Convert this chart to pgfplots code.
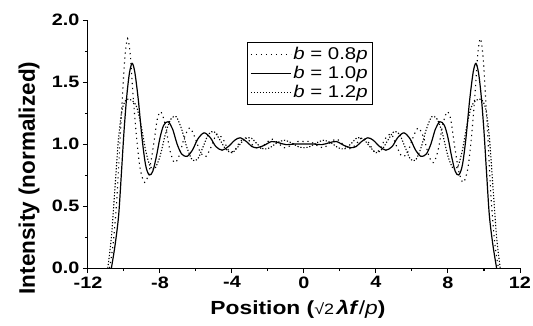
\documentclass[border=0pt]{standalone}
\usepackage{fontspec}
\setmainfont{Liberation Sans}[FakeStretch=1.2]
\newfontfamily\ylfont{Liberation Sans}
\usepackage{pgfplots}
\pgfplotsset{compat=1.18}
\begin{document}
\begin{tikzpicture}
\path[use as bounding box] (-88pt,-57pt) rectangle (445pt,268pt);
\begin{axis}[
  at={(0pt,0pt)}, anchor=south west,
  scale only axis, width=432pt, height=248pt,
  xmin=-12, xmax=12, ymin=0, ymax=2.0,
  axis lines*=left,
  axis line style={line width=1pt},
  tick style={line width=1pt, black},
  tick align=outside,
  major tick length=5pt, minor tick length=3pt,
  xtick={-12,-8,-4,0,4,8,12},
  ytick={0,0.5,1.0,1.5,2.0},
  minor x tick num=1, minor y tick num=1,
  /pgf/number format/assume math mode=true,
  ticklabel style={font=\fontsize{16.5}{19}\selectfont\bfseries},
  yticklabel style={/pgf/number format/.cd, fixed, fixed zerofill, precision=1},
  clip=true,
  legend style={at={(0.368,0.911)}, anchor=north west, draw=black, line width=0.8pt,
    font=\fontsize{17}{20}\selectfont, row sep=1pt, inner sep=3pt, cells={anchor=west}},
  legend image code/.code={\draw[#1, line width=1pt] (0pt,0pt) -- (40pt,0pt);},
]
% b = 0.8p
\addplot[black, line width=1.1pt, dash pattern=on 1.2pt off 3.8pt, smooth, tension=0.5] coordinates {
(-10.8,0) (-10.6,0.2) (-10.4,0.55) (-10.25,0.95) (-10.1,1.35) (-9.95,1.7) (-9.8,1.85) (-9.65,1.72) (-9.5,1.4) (-9.3,1.05) (-9.1,0.8) (-8.85,0.69) (-8.6,0.78) (-8.35,1.0) (-8.15,1.2) (-7.95,1.26) (-7.7,1.15) (-7.45,0.95) (-7.2,0.85) (-6.95,0.9) (-6.65,1.05) (-6.35,1.13) (-6.05,1.05) (-5.75,0.93) (-5.45,0.9) (-5.15,0.98) (-4.85,1.08) (-4.5,1.04) (-4.2,0.95) (-3.9,0.94) (-3.55,1.02) (-3.2,1.05) (-2.85,0.99) (-2.5,0.96) (-2.15,1.0) (-1.8,1.04) (-1.45,1.01) (-1.1,0.97) (-0.7,0.99) (-0.35,1.02) (0,1.02)
(0.35,1.02) (0.7,0.99) (1.1,0.97) (1.45,1.01) (1.8,1.04) (2.15,1.0) (2.5,0.96) (2.85,0.99) (3.2,1.05) (3.55,1.02) (3.9,0.94) (4.2,0.95) (4.5,1.04) (4.85,1.08) (5.15,0.98) (5.45,0.9) (5.75,0.93) (6.05,1.05) (6.35,1.13) (6.65,1.05) (6.95,0.9) (7.2,0.85) (7.45,0.95) (7.7,1.15) (7.95,1.26) (8.15,1.2) (8.35,1.0) (8.6,0.78) (8.85,0.69) (9.1,0.8) (9.3,1.05) (9.5,1.4) (9.65,1.72) (9.8,1.85) (9.95,1.7) (10.1,1.35) (10.25,0.95) (10.4,0.55) (10.6,0.2) (10.8,0)
};
\addlegendentry{\textit{b} = 0.8\textit{p}}
% b = 1.0p
\addplot[black, line width=1.2pt, smooth, tension=0.5] coordinates {
(-10.7,0) (-10.5,0.18) (-10.3,0.42) (-10.15,0.75) (-10.0,1.1) (-9.85,1.38) (-9.7,1.57) (-9.55,1.65) (-9.4,1.58) (-9.2,1.35) (-9.0,1.05) (-8.8,0.83) (-8.6,0.75) (-8.4,0.78) (-8.2,0.9) (-8.0,1.05) (-7.8,1.15) (-7.55,1.18) (-7.3,1.12) (-7.05,1.0) (-6.8,0.92) (-6.5,0.9) (-6.2,0.95) (-5.9,1.04) (-5.55,1.09) (-5.2,1.05) (-4.9,0.98) (-4.55,0.95) (-4.2,0.98) (-3.85,1.03) (-3.55,1.05) (-3.2,1.02) (-2.9,0.98) (-2.6,0.97) (-2.2,0.99) (-1.8,1.02) (-1.4,1.01) (-1.0,0.995) (-0.5,1.0) (0,1.0)
(0.5,1.0) (1.0,0.995) (1.4,1.01) (1.8,1.02) (2.2,0.99) (2.6,0.97) (2.9,0.98) (3.2,1.02) (3.55,1.05) (3.85,1.03) (4.2,0.98) (4.55,0.95) (4.9,0.98) (5.2,1.05) (5.55,1.09) (5.9,1.04) (6.2,0.95) (6.5,0.9) (6.8,0.92) (7.05,1.0) (7.3,1.12) (7.55,1.18) (7.8,1.15) (8.0,1.05) (8.2,0.9) (8.4,0.78) (8.6,0.75) (8.8,0.83) (9.0,1.05) (9.2,1.35) (9.4,1.58) (9.55,1.65) (9.7,1.57) (9.85,1.38) (10.0,1.1) (10.15,0.75) (10.3,0.42) (10.5,0.18) (10.7,0)
};
\addlegendentry{\textit{b} = 1.0\textit{p}}
% b = 1.2p
\addplot[black, line width=1.1pt, dash pattern=on 1.2pt off 1.8pt, smooth, tension=0.5] coordinates {
(-10.9,0) (-10.7,0.25) (-10.5,0.65) (-10.3,1.05) (-10.1,1.28) (-9.85,1.36) (-9.55,1.35) (-9.3,1.3) (-9.05,1.15) (-8.8,0.95) (-8.55,0.82) (-8.3,0.8) (-8.0,0.9) (-7.7,1.08) (-7.4,1.2) (-7.1,1.22) (-6.8,1.12) (-6.5,0.97) (-6.2,0.87) (-5.9,0.88) (-5.6,0.98) (-5.3,1.08) (-5.0,1.1) (-4.7,1.04) (-4.35,0.96) (-4.0,0.93) (-3.65,0.98) (-3.3,1.04) (-2.95,1.05) (-2.6,1.0) (-2.25,0.96) (-1.9,0.97) (-1.5,1.01) (-1.1,1.03) (-0.7,1.01) (-0.35,0.98) (0,0.97)
(0.35,0.98) (0.7,1.01) (1.1,1.03) (1.5,1.01) (1.9,0.97) (2.25,0.96) (2.6,1.0) (2.95,1.05) (3.3,1.04) (3.65,0.98) (4.0,0.93) (4.35,0.96) (4.7,1.04) (5.0,1.1) (5.3,1.08) (5.6,0.98) (5.9,0.88) (6.2,0.87) (6.5,0.97) (6.8,1.12) (7.1,1.22) (7.4,1.2) (7.7,1.08) (8.0,0.9) (8.3,0.8) (8.55,0.82) (8.8,0.95) (9.05,1.15) (9.3,1.3) (9.55,1.35) (9.85,1.36) (10.1,1.28) (10.3,1.05) (10.5,0.65) (10.7,0.25) (10.9,0)
};
\addlegendentry{\textit{b} = 1.2\textit{p}}
\end{axis}
\node[rotate=90, anchor=center, font=\ylfont\fontsize{22.5}{26}\selectfont\bfseries] at (-59pt,90pt) {Intensity (normalized)};
\node[anchor=center] at (210pt,-41pt) {\fontsize{19}{22}\selectfont\textbf{Position (}{\fontsize{15}{17}\selectfont √2\,}\textbf{\textit{λf}}/\textit{p}\textbf{)}};
\end{tikzpicture}
\end{document}
